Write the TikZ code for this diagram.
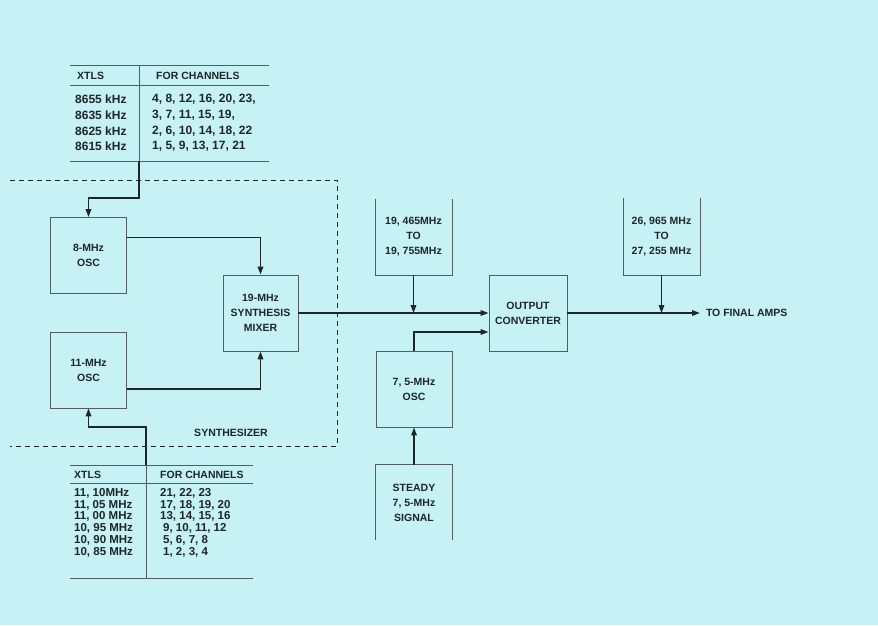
\documentclass[tikz,border=0pt]{standalone}
\usepackage{fontspec}
\setmainfont{Liberation Sans}
\usetikzlibrary{arrows.meta,positioning,calc}
\definecolor{paper}{RGB}{198,241,245}
\definecolor{ink}{RGB}{30,38,40}

\begin{document}
\begin{tikzpicture}[x=1pt, y=-1pt,
        block/.style={
            rectangle, draw=ink!75, line width=0.8pt,
            minimum width=76pt, minimum height=76pt,
            font=\fontsize{10.5}{15}\selectfont\bfseries, text=ink, align=center,
            inner sep=0pt
          },
        openblock/.style={block, draw=none},
        signal/.style={line width=1.6pt, draw=ink, -{Triangle[length=8pt,width=5.5pt]}},
        tablerule/.style={line width=0.7pt, draw=ink!75},
        cell/.style={anchor=west, inner sep=0pt, font=\fontsize{12}{13}\selectfont\bfseries, text=ink},
        smallcell/.style={cell, font=\fontsize{11.5}{12}\selectfont\bfseries},
        tag/.style={inner sep=0pt, font=\fontsize{10.5}{13}\selectfont\bfseries, text=ink},
      ]
      \fill [paper] (0,0) rectangle (878,625);
      \useasboundingbox (0,0) rectangle (878,625);

      % Upper crystal table
      \draw [tablerule] (70,65) -- (269,65);
      \draw [tablerule] (70,85) -- (269,85);
      \draw [tablerule] (70,161) -- (269,161);
      \draw [tablerule] (139,65) -- (139,161);
      \node [tag, anchor=west] (xhdA) at (77,76) {XTLS};
      \node [tag, anchor=west] (chdA) at (156,76) {FOR CHANNELS};
      \node [cell] (xa1) at (75,99) {8655 kHz};
      \node [cell] (xa2) at (75,115) {8635 kHz};
      \node [cell] (xa3) at (75,131) {8625 kHz};
      \node [cell] (xa4) at (75,146) {8615 kHz};
      \node [cell] (ca1) at (152,99) {4, 8, 12, 16, 20, 23,};
      \node [cell] (ca2) at (152,115) {3, 7, 11, 15, 19,};
      \node [cell] (ca3) at (152,131) {2, 6, 10, 14, 18, 22};
      \node [cell] (ca4) at (152,146) {1, 5, 9, 13, 17, 21};
      \coordinate (xtlA) at (139,161);

      % Lower crystal table
      \draw [tablerule] (70,465) -- (253,465);
      \draw [tablerule] (70,483) -- (253,483);
      \draw [tablerule] (70,578) -- (253,578);
      \draw [tablerule] (146,465) -- (146,578);
      \node [tag, anchor=west] (xhdB) at (74,475) {XTLS};
      \node [tag, anchor=west] (chdB) at (160,475) {FOR CHANNELS};
      \node [smallcell] (xb1) at (74,493) {11, 10MHz};
      \node [smallcell] (xb2) at (74,505) {11, 05 MHz};
      \node [smallcell] (xb3) at (74,516) {11, 00 MHz};
      \node [smallcell] (xb4) at (74,528) {10, 95 MHz};
      \node [smallcell] (xb5) at (74,540) {10, 90 MHz};
      \node [smallcell] (xb6) at (74,552) {10, 85 MHz};
      \node [smallcell] (cb1) at (160,493) {21, 22, 23};
      \node [smallcell] (cb2) at (160,505) {17, 18, 19, 20};
      \node [smallcell] (cb3) at (160,516) {13, 14, 15, 16};
      \node [smallcell] (cb4) at (163,528) {9, 10, 11, 12};
      \node [smallcell] (cb5) at (163,540) {5, 6, 7, 8};
      \node [smallcell] (cb6) at (163,552) {1, 2, 3, 4};
      \coordinate (xtlB) at (146,465);

      % Synthesizer
      \draw [ink, line width=1pt, dash pattern=on 5pt off 4pt] (10,180) -| (337,446) -- (10,446);
      \node [tag] (synth) at (231,433) {SYNTHESIZER};
      \node [block] (osc8) at (88.5,255.5) {8-MHz\\OSC};
      \node [block] (osc11) at (88.5,370) {11-MHz\\OSC};
      \node [block, minimum width=75pt] (mixer) at (260.5,313) {19-MHz\\SYNTHESIS\\MIXER};

      % Converter side
      \node [openblock] (lo19) at (413.5,237) {19, 465MHz\\TO\\19, 755MHz};
      \node [block, minimum width=78pt] (conv) at (528,313) {OUTPUT\\CONVERTER};
      \node [block] (osc75) at (414,389) {7, 5-MHz\\OSC};
      \node [openblock, minimum height=75pt] (steady) at (414,502.5) {STEADY\\7, 5-MHz\\SIGNAL};
      \node [openblock] (lo27) at (661.5,236.5) {26, 965 MHz\\TO\\27, 255 MHz};
      \node [tag, anchor=west, outer sep=6pt] (amps) at (700,313) {TO FINAL AMPS};

      % Open sides
      \draw [draw=ink!75, line width=0.8pt] (lo19.north west) |- (lo19.south east) -- (lo19.north east);
      \draw [draw=ink!75, line width=0.8pt] (lo27.north west) |- (lo27.south east) -- (lo27.north east);
      \draw [draw=ink!75, line width=0.8pt] (steady.south west) |- (steady.north east) -- (steady.south east);

      % Signal paths
      \draw [signal] (xtlA) -- ++(0,37) -| (osc8.north);
      \draw [signal] (xtlB) -- ++(0,-38) -| (osc11.south);
      \draw [signal] ([yshift=18pt]osc8.east) -| (mixer.north);
      \draw [signal] ([yshift=-19pt]osc11.east) -| (mixer.south);
      \draw [signal] (mixer.east) -- (conv.west);
      \draw [signal] (lo19.south) -- (lo19.south |- conv.west);
      \draw [signal] (steady.north) -- (osc75.south);
      \draw [signal] (osc75.north) |- ([yshift=-19pt]conv.west);
      \draw [signal] (conv.east) -- (amps.west);
      \draw [signal] (lo27.south) -- (lo27.south |- amps.west);
    \end{tikzpicture}
\end{document}
